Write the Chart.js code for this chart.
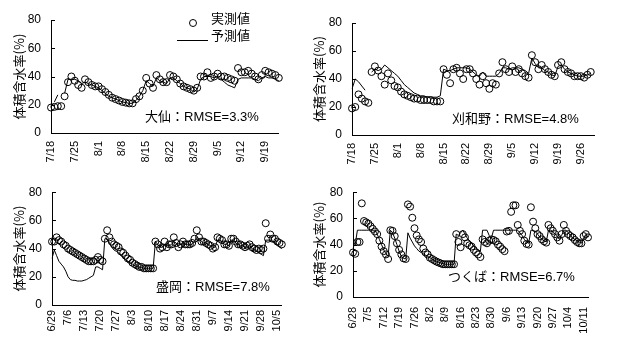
<!DOCTYPE html>
<html lang="ja">
<head>
<meta charset="UTF-8" />
<title>体積含水率の実測値と予測値</title>
<style>
  body { margin: 0; background: #fff; }
  .wrap { position: relative; width: 617px; height: 354px; }
  .wrap canvas { position: absolute; }
</style>
</head>
<body>
<div class="wrap">
  <canvas id="daisen" width="300" height="175" style="left:0;top:0"></canvas>
  <canvas id="kariwano" width="317" height="175" style="left:300px;top:0"></canvas>
  <canvas id="morioka" width="300" height="179" style="left:0;top:175px"></canvas>
  <canvas id="tsukuba" width="317" height="179" style="left:300px;top:175px"></canvas>
</div>
<script src="https://cdn.jsdelivr.net/npm/chart.js"></script>
<script>
// daily categories, one label every 7 days is shown
function dailyLabels(m, d, n) {
  const out = [];
  const dt = new Date(2021, m - 1, d);
  for (let i = 0; i < n; i++) {
    out.push((dt.getMonth() + 1) + '/' + dt.getDate());
    dt.setDate(dt.getDate() + 1);
  }
  return out;
}

const daisenDays = dailyLabels(7, 18, 68);
const kariwanoDays = dailyLabels(7, 18, 75);
const moriokaDays = dailyLabels(6, 29, 101);
const tsukubaDays = dailyLabels(6, 28, 108);

const yTicks = [0, 20, 40, 60, 80];

// 大仙
const daisenObs = [18,18.5,19,19,26,36,40,37,34,32,
  38,36,34,33,33,31,29,27,25,24,
  23,22,21.5,21,21,24,26,30,39,35,
  32,41,38,36,36,41,40,38,35,33,
  32,31,30,32,40,40,43,39,40,42,
  40,40,39,38,37,46,43,43,44,42,
  40,38,41,44,43,42,41,39];
const daisenPred = [null,22,27,null,28,38,38,38,37,35,
  36,35,34,33,32,30,28,26,25,24,
  23,22,21.5,21,21,23,26,30,37,35,
  33,39,37,36,35,39,39,37,35,33,
  32,31,29,31,38,40,40,40,39,40,
  38,36,34,33,32,38,39,39,39,39,
  38,37,39,40,39,39,38,37];

// 刈和野
const kariwanoObs = [19,20,29,26,24,23,45,49,46,42,
  36,44,39,35,34,31,29,28,27,26,
  26,25,25,25,25,24,24,24,47,43,
  37,47,48,44,40,47,47,44,40,36,
  42,37,33,37,36,44,52,47,45,49,
  45,47,44,42,41,57,52,47,50,47,
  45,43,42,50,52,47,45,44,42,42,
  42,41,43,45];
const kariwanoPred = [33,40,38,35,32,null,45,47,46,47,
  50,48,46,44,42,39,36,34,32,30,
  29,28,28,27,27,27,27,28,47,46,
  46,47,48,48,48,48,47,45,43,42,
  45,42,42,42,42,44,48,48,47,48,
  48,48,47,46,44,55,51,48,48,46,
  45,43,42,49,50,47,45,44,43,42,
  42,42,43,44];

// 盛岡
const moriokaObs = [45,45,48,46,45,43,42,40,39,38,
  37,36,35,34,33,32,31,31,31,32,
  34,32,31,47,53,48,45,43,42,41,
  38,37,35,33,32,30,29,28,27,27,
  26,26,26,26,26,45,43,40,41,45,
  41,43,43,48,44,41,43,45,43,43,
  43,44,47,53,48,45,45,44,43,42,
  40,41,48,47,46,43,43,42,47,47,
  45,43,43,42,41,42,43,41,40,39,
  40,39,40,58,47,50,47,47,45,44,
  43];
const moriokaPred = [33,39,35,31,29,27,24,20,18,17.5,
  17.5,17,17,17,17.5,18,19,20,21,27,
  27,26,25,47,47,44,41,39,38,37,
  35,34,32,31,30,29,28,27,27,26.5,
  26,26,26,26,26,45,43,41,41,43,
  42,42,43,45,44,42,43,44,43,43,
  43,43,45,48,47,45,44,44,43,42,
  41,41,46,46,45,43,43,42,46,46,
  44,43,42,42,41,41,42,40,39,38,
  37,36,35,46,46,46,45,44,43,41,
  40];

// つくば
const tsukubaObs = [34,33,42,42,71.5,58,57,56,54,52,
  50,48,43,38.5,35,32.5,29,51,50.5,46.5,
  41,36,32.5,29.5,29,70.7,69,60.5,52.5,47,
  44,42,37,34,32.5,30,29,28,27,26.3,
  25.6,25,25,25,25,25,25,48,42,38,
  48,45.5,41,39.5,38.5,36,34,32.5,30.5,44,
  42,41,43,44,43.5,42.5,40,38.5,36.5,35,
  50,50.5,65,70,70,55,50.5,48,43,40.5,
  40,68.5,57.5,52.5,48,46.5,44,42.5,41.5,55,
  52.5,50.5,48,45.5,43,48,55,50.5,48,46.5,
  45.5,43.5,42,41,41,46.5,48,45.5];
const tsukubaPred = [38,40,51,51,51,51,51,51,51,51,
  51,48,44,40,36,33,31,51,49,45,
  40,35,31,29.5,29,49,45,42,39,37,
  35,34,33,32,31,30,29,28,27,26.5,
  26,25.5,25,25,25,25,25,48,47,49,
  51,48,45,43,41,39,37,36,35,51,
  51,51,47,45,51,51,51,51,51,51,
  51,51,51,51,51,51,49,47,44,42,
  41,51,51,50,48,46,44,43,42,51,
  51,50,48,46,44,47,51,51,49,47,
  45,44,43,42,41,45,47,46];

const numFont = '"Liberation Sans", "Noto Sans CJK JP", sans-serif';
const jpFont = '"Noto Sans CJK JP", sans-serif';

// inward y ticks, RMSE note and the legend of the first panel
const panelDeco = {
  id: 'panelDeco',
  afterDraw(chart, args, o) {
    const ctx = chart.ctx;
    const y = chart.scales.y;
    const a = chart.chartArea;
    ctx.save();
    ctx.strokeStyle = '#000';
    ctx.lineWidth = 1;
    y.ticks.forEach(t => {
      const py = Math.round(y.getPixelForValue(t.value)) + 0.5;
      ctx.beginPath();
      ctx.moveTo(a.left, py);
      ctx.lineTo(a.left + 4, py);
      ctx.stroke();
    });
    ctx.fillStyle = '#000';
    ctx.textBaseline = 'middle';
    ctx.font = '13px ' + numFont;
    ctx.fillText(o.note, o.x, o.y);
    if (o.legend) {
      const L = o.legend;
      ctx.font = '13px ' + jpFont;
      ctx.beginPath();
      ctx.arc(L.cx, L.cy, 3.5, 0, Math.PI * 2);
      ctx.stroke();
      ctx.fillText(chart.data.datasets[0].label, L.tx, L.ty1);
      ctx.beginPath();
      ctx.moveTo(L.lx0, L.ly + 0.5);
      ctx.lineTo(L.lx1, L.ly + 0.5);
      ctx.stroke();
      ctx.fillText(chart.data.datasets[1].label, L.tx, L.ty2);
    }
    ctx.restore();
  }
};

function makePanel(id, labels, obs, pred, p) {
  return new Chart(document.getElementById(id), {
    type: 'line',
    data: {
      labels: labels,
      datasets: [
        {
          label: '実測値',
          data: obs,
          showLine: false,
          pointRadius: 3.5,
          pointBorderWidth: 1,
          pointBorderColor: '#000',
          pointBackgroundColor: 'rgba(0,0,0,0)',
          borderColor: '#000'
        },
        {
          label: '予測値',
          data: pred,
          borderColor: '#000',
          borderWidth: 1,
          pointRadius: 0,
          tension: 0,
          spanGaps: false
        }
      ]
    },
    options: {
      responsive: false,
      animation: false,
      devicePixelRatio: 1,
      layout: { padding: { top: p.top, right: p.right, left: 0, bottom: 0 } },
      plugins: {
        legend: { display: false },
        tooltip: { enabled: false },
        panelDeco: { note: p.note, x: p.nx, y: p.ny, legend: p.legend }
      },
      scales: {
        x: {
          type: 'category',
          offset: false,
          grid: { display: false, drawTicks: false },
          border: { display: true, color: '#000', width: 1 },
          afterFit: s => { s.height = p.xHeight; },
          ticks: {
            autoSkip: false,
            minRotation: 90,
            maxRotation: 90,
            padding: p.xPad,
            color: '#000',
            font: { family: numFont, size: 11 },
            callback: (v, i) => (i % 7 === 0 ? labels[i] : '')
          }
        },
        y: {
          min: yTicks[0],
          max: yTicks[yTicks.length - 1],
          afterBuildTicks: s => { s.ticks = yTicks.map(v => ({ value: v })); },
          grid: { display: false, drawTicks: false },
          border: { display: true, color: '#000', width: 1 },
          afterFit: s => { s.width = p.yWidth; },
          ticks: { padding: 10, color: '#000', font: { family: numFont, size: 12 } },
          title: {
            display: true,
            text: '体積含水率(%)',
            color: '#000',
            font: { family: jpFont, size: 13 },
            padding: { top: 11, bottom: 0 }
          }
        }
      }
    },
    plugins: [panelDeco]
  });
}

makePanel('daisen', daisenDays, daisenObs, daisenPred, {
  top: 20, right: 7, yWidth: 51, xHeight: 42, xPad: 8,
  note: '大仙：RMSE=3.3%', nx: 145, ny: 117.5,
  legend: { cx: 193, cy: 23, tx: 211, ty1: 18, ty2: 35, lx0: 177, lx1: 208, ly: 40 }
});
makePanel('kariwano', kariwanoDays, kariwanoObs, kariwanoPred, {
  top: 23, right: 23, yWidth: 52, xHeight: 40, xPad: 8,
  note: '刈和野：RMSE=4.8%', nx: 152, ny: 119
});
makePanel('morioka', moriokaDays, moriokaObs, moriokaPred, {
  top: 16, right: 18, yWidth: 52, xHeight: 49, xPad: 5,
  note: '盛岡：RMSE=7.8%', nx: 156, ny: 112
});
makePanel('tsukuba', tsukubaDays, tsukubaObs, tsukubaPred, {
  top: 7, right: 29, yWidth: 53, xHeight: 57, xPad: 10,
  note: 'つくば：RMSE=6.7%', nx: 148, ny: 102.5
});
</script>
</body>
</html>
